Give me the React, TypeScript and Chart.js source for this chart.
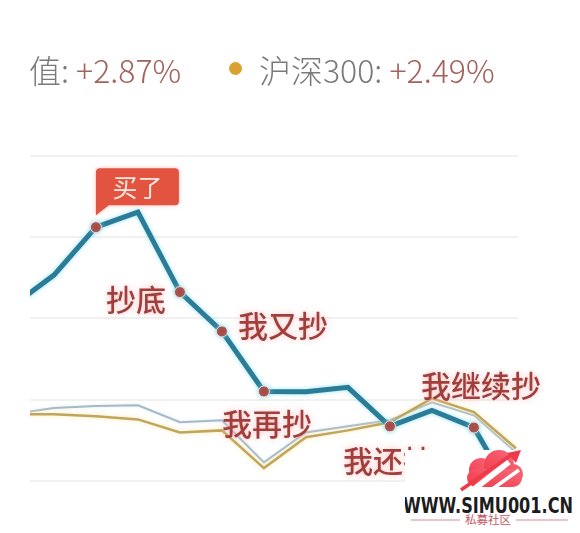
import React, { useEffect, useRef } from 'react';
import { Chart, registerables } from 'chart.js';

Chart.register(...registerables);

// ---- data ----
const steps = [0, 1, 2, 3, 4, 5, 6, 7, 8, 9, 10, 11, 12];
const fundValues = [4.3, 5.07, 6.25, 6.62, 4.65, 3.68, 2.2, 2.19, 2.3, 1.34, 1.73, 1.31, -0.48];
const peerValues = [1.64, 1.79, 1.84, 1.86, 1.44, 1.49, 0.45, 1.19, 1.34, 1.49, 1.93, 1.61, 0.7];
const hs300Values = [1.64, 1.64, 1.59, 1.51, 1.19, 1.24, 0.31, 1.07, 1.24, 1.44, 2.03, 1.69, 0.8];
const gridValues = [0, 2, 4, 6, 8];
const eventIndices = [2, 4, 5, 6, 9, 11];
const eventLabels = ['买了', '抄底', '我又抄', '我再抄', '我还抄', '我继续抄'];
const fundLabel = '值:';
const fundChange = '+2.87%';
const hs300Label = '沪深300:';
const hs300Change = '+2.49%';

// ---- label placement (style) ----
const labelPlacement = [
  { box: true, dx: 0, dy: 0 },
  { box: false, dx: -44, dy: 8 },
  { box: false, dx: 61, dy: -6 },
  { box: false, dx: 3, dy: 32 },
  { box: false, dx: -2, dy: 34 },
  { box: false, dx: 7, dy: -42 },
];

const glowPlugin = {
  id: 'glow',
  beforeDatasetDraw(chart: any, args: any) {
    const ctx = chart.ctx;
    ctx.save();
    const ds = chart.data.datasets[args.index];
    ctx.shadowColor = ds.glowColor || 'transparent';
    ctx.shadowBlur = ds.glowBlur || 0;
  },
  afterDatasetDraw(chart: any) {
    chart.ctx.restore();
  },
};

const labelPlugin = {
  id: 'eventLabels',
  afterDatasetsDraw(chart: any) {
    const ctx = chart.ctx;
    const meta = chart.getDatasetMeta(0);
    eventIndices.forEach((idx, k) => {
      const pt = meta.data[idx];
      if (!pt) return;
      const px = pt.x;
      const py = pt.y;
      const pl = labelPlacement[k];
      ctx.save();
      if (pl.box) {
        const left = px + pl.dx;
        const top = py - 59;
        const w = 83;
        const h = 37;
        const r = 4;
        ctx.fillStyle = '#e2543f';
        ctx.shadowColor = 'rgba(240,150,130,0.6)';
        ctx.shadowBlur = 4;
        ctx.beginPath();
        ctx.moveTo(left + r, top);
        ctx.lineTo(left + w - r, top);
        ctx.quadraticCurveTo(left + w, top, left + w, top + r);
        ctx.lineTo(left + w, top + h - r);
        ctx.quadraticCurveTo(left + w, top + h, left + w - r, top + h);
        ctx.lineTo(left + 13, top + h);
        ctx.lineTo(left, top + h + 10);
        ctx.lineTo(left, top + r);
        ctx.quadraticCurveTo(left, top, left + r, top);
        ctx.closePath();
        ctx.fill();
        ctx.shadowBlur = 0;
        ctx.fillStyle = '#ffe9e2';
        ctx.font = '25px "Noto Sans CJK SC"';
        ctx.textAlign = 'center';
        ctx.textBaseline = 'middle';
        ctx.fillText(eventLabels[k], left + w / 2, top + h / 2 + 1);
      } else {
        ctx.font = '500 30px "Noto Sans CJK SC"';
        ctx.textAlign = 'center';
        ctx.textBaseline = 'middle';
        ctx.shadowColor = 'rgba(255,185,185,0.95)';
        ctx.shadowBlur = 6;
        ctx.fillStyle = '#a03f3c';
        ctx.fillText(eventLabels[k], px + pl.dx, py + pl.dy);
      }
      ctx.restore();
    });
  },
};

function toPoints(values: number[]) {
  return steps.map((s, i) => ({ x: s, y: values[i] }));
}

function ChartCanvas() {
  const ref = useRef<HTMLCanvasElement | null>(null);
  useEffect(() => {
    if (!ref.current) return;
    const chart = new Chart(ref.current, {
      type: 'line',
      data: {
        datasets: [
          {
            label: '基金',
            data: toPoints(fundValues),
            borderColor: '#2c7c98',
            borderWidth: 5,
            tension: 0,
            pointRadius: (c: any) => (eventIndices.includes(c.dataIndex) ? 5.5 : 0),
            pointHoverRadius: 0,
            pointBackgroundColor: '#a8463e',
            pointBorderColor: 'rgba(255,225,225,0.9)',
            pointBorderWidth: 1,
            order: 0,
            glowColor: 'rgba(120,220,240,0.8)',
            glowBlur: 4,
          } as any,
          {
            label: '沪深300',
            data: toPoints(hs300Values),
            borderColor: '#c2a55c',
            borderWidth: 2.5,
            tension: 0,
            pointRadius: 0,
            order: 1,
            glowColor: 'rgba(250,235,170,0.95)',
            glowBlur: 5,
          } as any,
          {
            label: '同类平均',
            data: toPoints(peerValues),
            borderColor: '#a7b9c7',
            borderWidth: 2,
            tension: 0,
            pointRadius: 0,
            order: 2,
            glowColor: 'rgba(220,235,245,0.9)',
            glowBlur: 3,
          } as any,
        ],
      },
      options: {
        animation: false,
        responsive: false,
        devicePixelRatio: 1,
        layout: { padding: { left: 30, right: 62, top: 140, bottom: 28 } },
        plugins: {
          legend: { display: false },
          tooltip: { enabled: false },
        },
        events: [],
        scales: {
          x: {
            type: 'linear',
            display: false,
            min: 0.43,
            max: 12.05,
          },
          y: {
            type: 'linear',
            min: -0.6,
            max: 8.4,
            afterFit: (s: any) => {
              s.width = 0;
            },
            afterBuildTicks: (s: any) => {
              s.ticks = gridValues.map((v) => ({ value: v }));
            },
            ticks: { display: false },
            border: { display: false },
            grid: { color: '#f1f1f1', lineWidth: 2, drawTicks: false },
          },
        },
      } as any,
      plugins: [glowPlugin, labelPlugin],
    });
    return () => chart.destroy();
  }, []);
  return (
    <canvas
      ref={ref}
      width={580}
      height={533}
      style={{ position: 'absolute', left: 0, top: 0, width: 580, height: 533 }}
    />
  );
}

const headerFont = '"Noto Sans CJK SC", "Noto Sans", sans-serif';

export default function App() {
  return (
    <div
      style={{
        position: 'absolute',
        left: 0,
        top: 0,
        width: 580,
        height: 533,
        background: '#ffffff',
        overflow: 'hidden',
      }}
    >
      <ChartCanvas />
      <div
        style={{
          position: 'absolute',
          left: 29,
          top: 53,
          fontFamily: headerFont,
          fontSize: 32,
          lineHeight: '32px',
          fontWeight: 300,
          color: '#7a7a7a',
          whiteSpace: 'nowrap',
        }}
      >
        {fundLabel} <span style={{ color: '#a3625c' }}>{fundChange}</span>
      </div>
      <div
        style={{
          position: 'absolute',
          left: 229,
          top: 62,
          width: 13,
          height: 13,
          borderRadius: '50%',
          background: '#d8a132',
        }}
      />
      <div
        style={{
          position: 'absolute',
          left: 259,
          top: 53,
          fontFamily: headerFont,
          fontSize: 32,
          lineHeight: '32px',
          fontWeight: 300,
          color: '#7a7a7a',
          whiteSpace: 'nowrap',
        }}
      >
        {hs300Label} <span style={{ color: '#a3625c' }}>{hs300Change}</span>
      </div>
      <svg
        width={175}
        height={83}
        style={{ position: 'absolute', left: 405, top: 450 }}
      >
        <rect x={0} y={0} width={175} height={83} fill="#ffffff" />
        <defs>
          <linearGradient id="cloudGrad" x1="0" y1="1" x2="1" y2="0">
            <stop offset="0" stopColor="#f0384a" />
            <stop offset="1" stopColor="#f76a78" />
          </linearGradient>
        </defs>
        <g fill="url(#cloudGrad)">
          <circle cx={76} cy={20} r={12} />
          <circle cx={94} cy={15} r={15} />
          <circle cx={108} cy={24} r={10} />
          <rect x={62} y={19} width={55} height={18} rx={9} />
        </g>
        <path d="M68 40 L104 12" stroke="#ffffff" strokeWidth={6} />
        <path d="M86 40 L114 20" stroke="#ffffff" strokeWidth={3.5} />
        <path d="M56 40 L106 5" stroke="#ee3b4c" strokeWidth={3.5} />
        <polygon points="116,0 102,3 111,13" fill="#ee3b4c" />
        <text
          x={-2}
          y={63}
          fontFamily='"DejaVu Sans", sans-serif'
          fontWeight="bold"
          fontSize={22}
          fill="#1c1c1c"
          textLength={170}
          lengthAdjust="spacingAndGlyphs"
        >
          WWW.SIMU001.CN
        </text>
        <line x1={6} y1={70} x2={55} y2={70} stroke="#d58e95" strokeWidth={1.2} />
        <line x1={111} y1={70} x2={163} y2={70} stroke="#d58e95" strokeWidth={1.2} />
        <text
          x={83}
          y={74}
          textAnchor="middle"
          fontFamily='"Noto Sans CJK SC", sans-serif'
          fontSize={11.5}
          fill="#c4565f"
        >
          私募社区
        </text>
      </svg>
    </div>
  );
}
